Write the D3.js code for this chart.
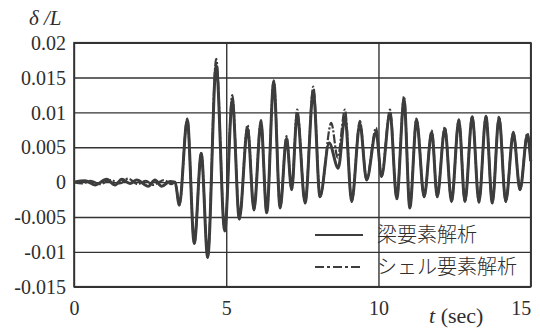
<!DOCTYPE html>
<html>
<head>
<meta charset="utf-8">
<script src="https://cdn.jsdelivr.net/npm/d3@7"></script>
<style>
  html, body { margin: 0; padding: 0; background: #ffffff; }
  svg { display: block; }
</style>
</head>
<body>
<svg id="chart" width="540" height="329"></svg>
<script>
// Time axis (sec) and tick values
const xTicks = [0, 5, 10, 15];
const yTicks = [0.02, 0.015, 0.01, 0.005, 0, -0.005, -0.01, -0.015];
const yTickLabels = ["0.02", "0.015", "0.01", "0.005", "0", "-0.005", "-0.01", "-0.015"];

// Beam element analysis (梁要素解析): time (sec) of successive turning points
const beamTime = [0.00, 0.36, 0.69, 1.07, 1.35, 1.57, 1.84, 2.06, 2.44, 2.66, 2.88, 3.15, 3.32,
  3.46, 3.72, 3.95, 4.18, 4.39, 4.67, 4.95, 5.20, 5.43, 5.70, 5.91, 6.14, 6.33, 6.56, 6.77, 6.98,
  7.15, 7.33, 7.59, 7.86, 8.08, 8.38, 8.68, 8.90, 9.12, 9.39, 9.61, 9.92, 10.10, 10.38, 10.60,
  10.84, 11.03, 11.25, 11.50, 11.75, 11.93, 12.18, 12.40, 12.64, 12.84, 13.08, 13.30, 13.53,
  13.74, 13.96, 14.18, 14.43, 14.65, 14.89, 15.00];
// Beam element analysis: δ/L at those points
const beamValue = [0.0000, 0.0002, -0.0004, 0.0004, -0.0004, 0.0004, -0.0002, 0.0003, -0.0006, 0.0003, -0.0006, 0.0001, 0.0000,
  -0.0033, 0.0090, -0.0088, 0.0041, -0.0108, 0.0168, -0.0070, 0.0118, -0.0053, 0.0078, -0.0040, 0.0086, -0.0044, 0.0144, -0.0037, 0.0063,
  -0.0011, 0.0098, -0.0030, 0.0130, -0.0021, 0.0056, 0.0020, 0.0094, -0.0028, 0.0084, 0.0003, 0.0072, 0.0008, 0.0099, -0.0024,
  0.0118, -0.0037, 0.0089, -0.0021, 0.0072, -0.0021, 0.0077, -0.0028, 0.0089, -0.0028, 0.0094, -0.0029, 0.0094,
  -0.0030, 0.0093, -0.0028, 0.0070, -0.0011, 0.0068, 0.0030];

// Shell element analysis (シェル要素解析): time (sec) of successive turning points
const shellTime = [0.00, 0.25, 0.55, 0.85, 1.20, 1.50, 1.78, 2.10, 2.36, 2.60, 2.95, 3.20, 3.32,
  3.46, 3.72, 3.95, 4.18, 4.39, 4.67, 4.95, 5.20, 5.43, 5.70, 5.91, 6.14, 6.33, 6.56, 6.77, 6.98,
  7.15, 7.33, 7.59, 7.86, 8.08, 8.45, 8.66, 8.90, 9.12, 9.39, 9.61, 9.92, 10.10, 10.38, 10.60,
  10.84, 11.03, 11.25, 11.50, 11.75, 11.93, 12.18, 12.40, 12.64, 12.84, 13.08, 13.30, 13.53,
  13.74, 13.96, 14.18, 14.43, 14.65, 14.89, 15.00];
// Shell element analysis: δ/L at those points
const shellValue = [0.0000, -0.0002, 0.0002, -0.0003, 0.0003, -0.0002, 0.0005, -0.0003, 0.0002, -0.0004, 0.0003, -0.0003, 0.0000,
  -0.0033, 0.0091, -0.0088, 0.0042, -0.0108, 0.0177, -0.0070, 0.0125, -0.0053, 0.0082, -0.0040, 0.0089, -0.0044, 0.0146, -0.0037, 0.0066,
  -0.0011, 0.0104, -0.0030, 0.0137, -0.0021, 0.0085, 0.0035, 0.0104, -0.0028, 0.0088, 0.0003, 0.0078, 0.0008, 0.0104, -0.0024,
  0.0123, -0.0037, 0.0091, -0.0021, 0.0074, -0.0021, 0.0079, -0.0028, 0.0090, -0.0028, 0.0095, -0.0029, 0.0095,
  -0.0030, 0.0094, -0.0028, 0.0072, -0.0011, 0.0070, 0.0030];

const legendLabels = ["梁要素解析", "シェル要素解析"];

const svg = d3.select("#chart");
const plotLeft = 74, plotRight = 530.7, plotTop = 42.7, plotBottom = 286.7;
const ink = "#333333";
const serif = "'Liberation Serif', 'Times New Roman', serif";

const x = d3.scaleLinear().domain([0, 15]).range([plotLeft, plotRight]);
const y = d3.scaleLinear().domain([-0.015, 0.02]).range([plotBottom, plotTop]);

// Horizontal grid + y labels
const yAxis = svg.append("g")
  .attr("transform", `translate(${plotLeft},0)`)
  .call(d3.axisLeft(y).tickValues(yTicks)
    .tickSize(-(plotRight - plotLeft)).tickPadding(8)
    .tickFormat((d, i) => yTickLabels[i]));
yAxis.select(".domain").remove();
yAxis.selectAll(".tick line").attr("stroke", ink).attr("stroke-width", 1.4);
yAxis.selectAll(".tick text").attr("dy", "0.33em").attr("fill", "#2e2e2e")
  .style("font-family", serif).style("font-size", "20px");

// Vertical grid + x labels
const xAxis = svg.append("g")
  .attr("transform", `translate(0,${plotBottom})`)
  .call(d3.axisBottom(x).tickValues(xTicks)
    .tickSize(-(plotBottom - plotTop)).tickPadding(10)
    .tickFormat(d3.format("d")));
xAxis.select(".domain").remove();
xAxis.selectAll(".tick line").attr("stroke", ink).attr("stroke-width", 1.4);
xAxis.selectAll(".tick text").attr("dy", "0.9em").attr("fill", "#2e2e2e")
  .style("font-family", serif).style("font-size", "20px")
  .filter(d => d === 15).attr("text-anchor", "end");

// Plot frame
svg.append("rect")
  .attr("x", plotLeft).attr("y", plotTop)
  .attr("width", plotRight - plotLeft).attr("height", plotBottom - plotTop)
  .attr("fill", "none").attr("stroke", ink).attr("stroke-width", 1.6);

const line = d3.line().curve(d3.curveMonotoneX)
  .x(d => x(d[0])).y(d => y(d[1]));

const beam = d3.zip(beamTime, beamValue);
const shell = d3.zip(shellTime, shellValue);

svg.append("path").datum(beam)
  .attr("d", line).attr("fill", "none")
  .attr("stroke", "#3d3d3d").attr("stroke-width", 3).attr("stroke-linejoin", "round");

svg.append("path").datum(shell)
  .attr("d", line).attr("fill", "none")
  .attr("stroke", "#3d3d3d").attr("stroke-width", 2.2)
  .attr("stroke-dasharray", "9,2,2,2");

// Legend
const lg = svg.append("g");
const legendRows = [
  { y: 235, dash: null, label: legendLabels[0] },
  { y: 267, dash: "9,3,3,3", label: legendLabels[1] }
];
legendRows.forEach(r => {
  lg.append("line")
    .attr("x1", 315).attr("x2", 363).attr("y1", r.y).attr("y2", r.y)
    .attr("stroke", "#3d3d3d").attr("stroke-width", 2)
    .attr("stroke-dasharray", r.dash);
  lg.append("text")
    .attr("x", 377).attr("y", r.y).attr("dy", "0.36em")
    .style("font-family", "'Noto Sans CJK JP', sans-serif")
    .style("font-size", "20px").style("font-weight", 300)
    .attr("fill", "#2e2e2e")
    .text(r.label);
});

// Axis titles
svg.append("text")
  .attr("x", 29).attr("y", 25)
  .style("font-family", serif).style("font-size", "21px")
  .style("font-style", "italic").attr("fill", "#2e2e2e")
  .text("δ /L");

const xt = svg.append("text")
  .attr("x", 429).attr("y", 323)
  .style("font-family", serif).style("font-size", "22px")
  .attr("fill", "#2e2e2e");
xt.append("tspan").style("font-style", "italic").text("t");
xt.append("tspan").text(" (sec)");
</script>
</body>
</html>
